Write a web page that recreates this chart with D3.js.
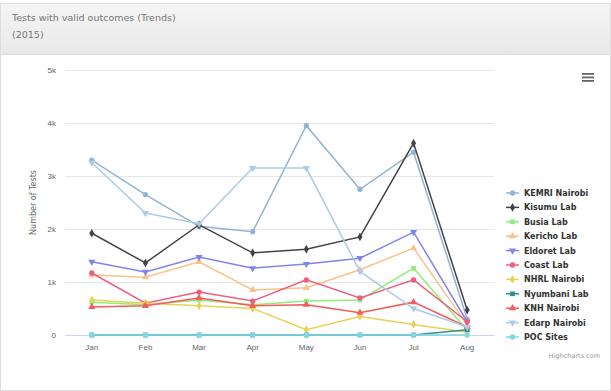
<!DOCTYPE html>
<html>
<head>
<meta charset="utf-8">
<script src="https://d3js.org/d3.v7.min.js"></script>
<style>
  body { margin: 0; background: #fff; font-family: "Lucida Grande", "DejaVu Sans", Arial, sans-serif; }
</style>
</head>
<body>
<svg id="chart" width="611" height="391"></svg>
<script>
  const months = ["Jan", "Feb", "Mar", "Apr", "May", "Jun", "Jul", "Aug"];
  const yTicks = [0, 1000, 2000, 3000, 4000, 5000];
  const labs = ["KEMRI Nairobi", "Kisumu Lab", "Busia Lab", "Kericho Lab", "Eldoret Lab", "Coast Lab",
                "NHRL Nairobi", "Nyumbani Lab", "KNH Nairobi", "Edarp Nairobi", "POC Sites"];
  const colors = ["#93b3d4", "#434348", "#90ed7d", "#f7c38a", "#8085e9", "#f15c80",
                  "#e4d354", "#2b908f", "#f45b5b", "#abcbe8", "#7fd6e4"];

  // tests per month, one array per lab
  const kemri   = [3300, 2650, 2050, 1950, 3950, 2750, 3450, 300];
  const kisumu  = [1920, 1360, 2080, 1550, 1620, 1850, 3620, 470];
  const busia   = [620, 570, 660, 570, 640, 660, 1260, 90];
  const kericho = [1130, 1090, 1380, 850, 890, 1230, 1640, 190];
  const eldoret = [1380, 1190, 1470, 1260, 1340, 1450, 1940, 250];
  const coast   = [1170, 600, 810, 640, 1040, 700, 1040, 250];
  const nhrl    = [660, 600, 550, 500, 100, 350, 200, 50];
  const nyumbani = [0, 0, 0, 0, 0, 0, 0, 100];
  const knh     = [530, 550, 700, 550, 570, 420, 620, 150];
  const edarp   = [3250, 2300, 2100, 3150, 3150, 1200, 500, 150];
  const poc     = [0, 0, 0, 0, 0, 0, 0, 0];
  const values = [kemri, kisumu, busia, kericho, eldoret, coast, nhrl, nyumbani, knh, edarp, poc];

  const svg = d3.select("#chart");

  // panel heading
  const grad = svg.append("defs").append("linearGradient").attr("id", "hd").attr("x1", 0).attr("y1", 0).attr("x2", 0).attr("y2", 1);
  grad.append("stop").attr("offset", "0%").attr("stop-color", "#f5f5f5");
  grad.append("stop").attr("offset", "100%").attr("stop-color", "#e8e8e8");
  svg.append("rect").attr("x", 0.5).attr("y", 3.5).attr("width", 610).attr("height", 387).attr("fill", "#fff").attr("stroke", "#ddd");
  svg.append("rect").attr("x", 1).attr("y", 4).attr("width", 609).attr("height", 50).attr("fill", "url(#hd)");
  svg.append("line").attr("x1", 1).attr("x2", 610).attr("y1", 54.5).attr("y2", 54.5).attr("stroke", "#ddd");
  svg.append("text").attr("x", 12).attr("y", 21).attr("fill", "#777").attr("font-size", 9.5).text("Tests with valid outcomes (Trends)");
  svg.append("text").attr("x", 12).attr("y", 38).attr("fill", "#777").attr("font-size", 9.5).text("(2015)");

  const plotL = 65, plotR = 494, plotT = 70, plotB = 335;
  const x = d3.scaleBand().domain(months).range([plotL, plotR]);
  const y = d3.scaleLinear().domain([0, 5000]).range([plotB, plotT]);
  const cx = m => x(m) + x.bandwidth() / 2;

  // grid
  svg.append("g").selectAll("line").data(yTicks).join("line")
    .attr("x1", plotL).attr("x2", plotR)
    .attr("y1", d => Math.round(y(d)) + 0.5).attr("y2", d => Math.round(y(d)) + 0.5)
    .attr("stroke", "#e6e6e6");

  const yAxis = svg.append("g").attr("transform", `translate(${plotL},0)`)
    .call(d3.axisLeft(y).tickValues(yTicks).tickSize(0).tickPadding(9).tickFormat(d => d === 0 ? "0" : d / 1000 + "k"));
  yAxis.select(".domain").remove();
  yAxis.selectAll("text").attr("fill", "#666").attr("font-size", 8);

  svg.append("text").attr("transform", `translate(36,${(plotT + plotB) / 2}) rotate(-90)`)
    .attr("text-anchor", "middle").attr("fill", "#666").attr("font-size", 8).text("Number of Tests");

  const xAxis = svg.append("g").attr("transform", `translate(0,${plotB})`)
    .call(d3.axisBottom(x).tickSize(0).tickPadding(9));
  xAxis.select(".domain").attr("stroke", "#ccd6eb");
  xAxis.selectAll("text").attr("fill", "#666").attr("font-size", 8);

  const symbols = [d3.symbolCircle, d3.symbolDiamond, d3.symbolSquare, d3.symbolTriangle, d3.symbolTriangle];
  const line = d3.line().x((d, i) => cx(months[i])).y(d => y(d));

  values.forEach((vals, s) => {
    const g = svg.append("g");
    g.append("path").attr("d", line(vals)).attr("fill", "none").attr("stroke", colors[s]).attr("stroke-width", 1.5);
    g.selectAll("path.m").data(vals).join("path").attr("class", "m")
      .attr("transform", (d, i) => `translate(${cx(months[i])},${y(d)})` + (s % 5 === 4 ? " rotate(180)" : ""))
      .attr("d", d3.symbol().type(symbols[s % 5]).size(22))
      .attr("fill", colors[s]);
  });

  // legend
  const leg = svg.append("g").attr("transform", "translate(506,193)");
  labs.forEach((name, s) => {
    const it = leg.append("g").attr("transform", `translate(0,${s * 14.4})`);
    it.append("line").attr("x1", 0).attr("x2", 13).attr("y1", 0).attr("y2", 0).attr("stroke", colors[s]).attr("stroke-width", 1.5);
    it.append("path").attr("transform", `translate(6.5,0)` + (s % 5 === 4 ? " rotate(180)" : ""))
      .attr("d", d3.symbol().type(symbols[s % 5]).size(22)).attr("fill", colors[s]);
    it.append("text").attr("x", 18).attr("y", 3).attr("font-size", 8).attr("font-weight", "bold").attr("fill", "#333").text(name);
  });

  // export menu icon
  const menu = svg.append("g").attr("transform", "translate(582,73)");
  [0, 3.5, 7].forEach(o => menu.append("rect").attr("x", 0).attr("y", o).attr("width", 12).attr("height", 1.8).attr("fill", "#666"));

  svg.append("text").attr("x", 600).attr("y", 358).attr("text-anchor", "end").attr("fill", "#999").attr("font-size", 6.5).text("Highcharts.com");
</script>
</body>
</html>
